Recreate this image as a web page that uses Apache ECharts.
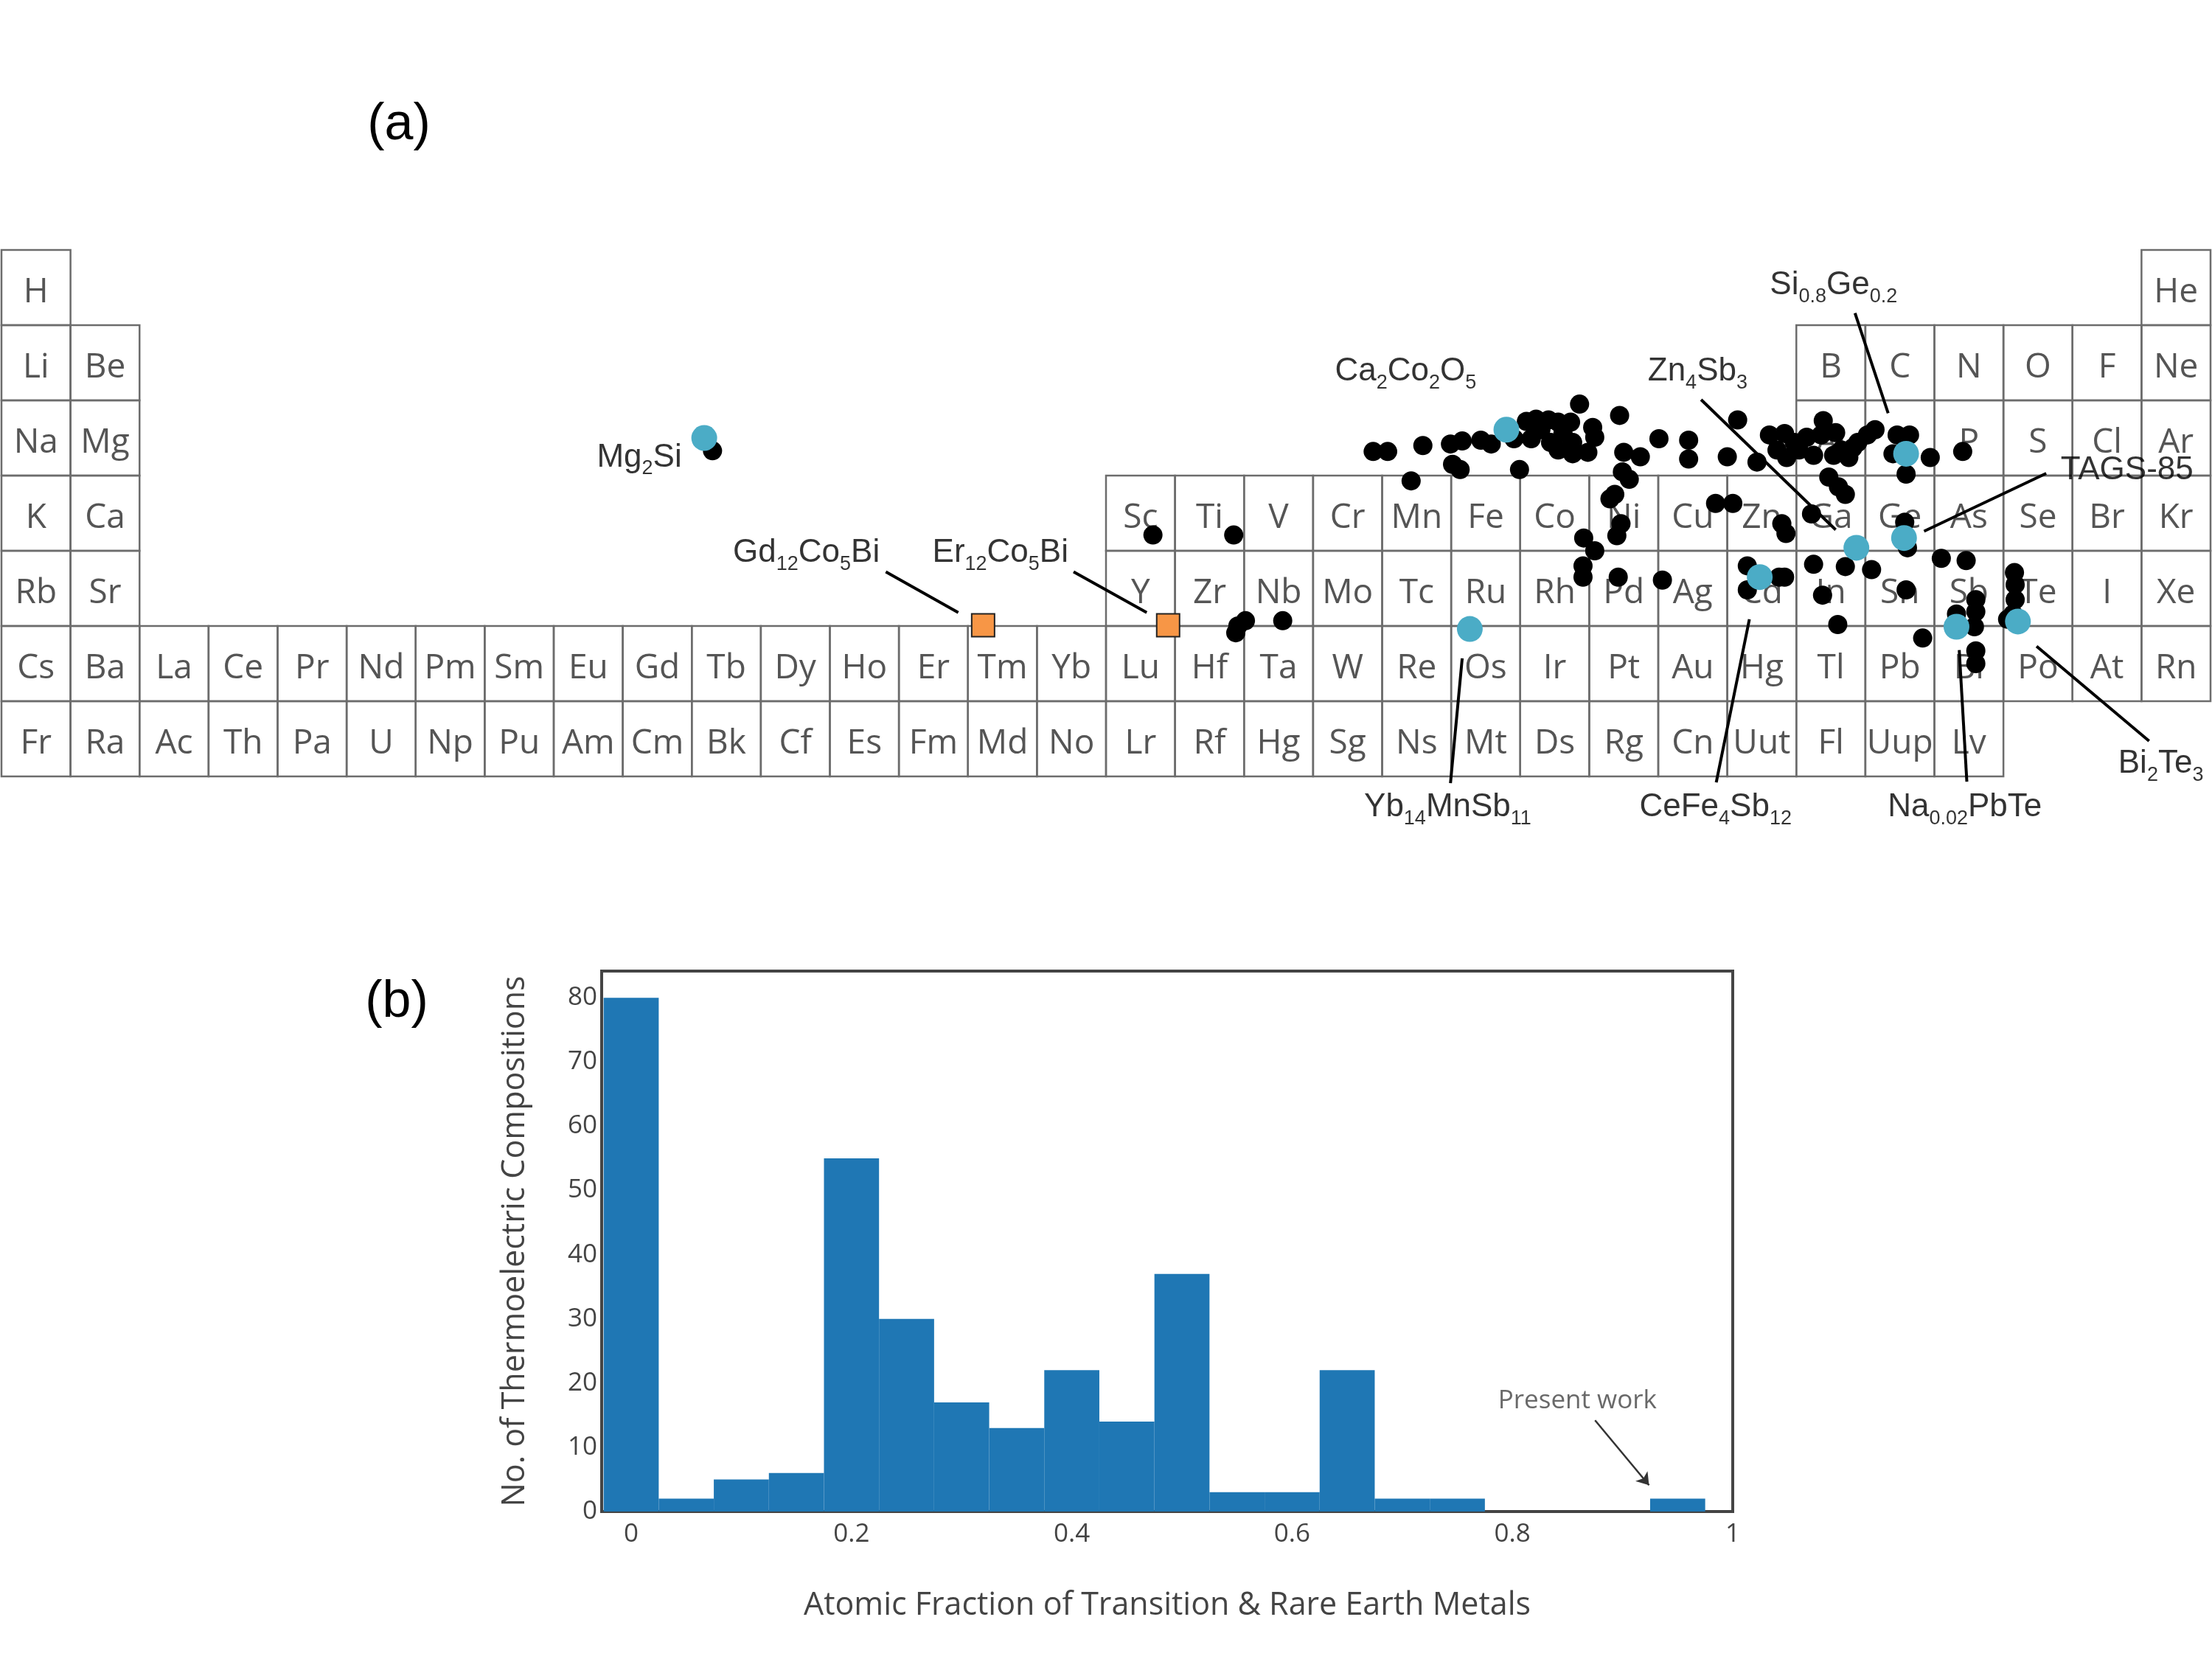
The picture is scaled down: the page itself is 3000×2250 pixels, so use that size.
<!DOCTYPE html>
<html><head><meta charset="utf-8">
<script src="https://cdn.jsdelivr.net/npm/echarts@6/dist/echarts.min.js"></script>
<style>html,body{margin:0;padding:0;background:#fff}#c{width:3000px;height:2250px}</style>
</head><body><div id="c"></div>
<script>
// ---------- (a) periodic table: [row, start column, symbols] ----------
const tableSegments = [
  [1, 1, 'H'], [1, 32, 'He'],
  [2, 1, 'Li Be'], [2, 27, 'B C N O F Ne'],
  [3, 1, 'Na Mg'], [3, 27, 'Al Si P S Cl Ar'],
  [4, 1, 'K Ca'], [4, 17, 'Sc Ti V Cr Mn Fe Co Ni Cu Zn Ga Ge As Se Br Kr'],
  [5, 1, 'Rb Sr'], [5, 17, 'Y Zr Nb Mo Tc Ru Rh Pd Ag Cd In Sn Sb Te I Xe'],
  [6, 1, 'Cs Ba La Ce Pr Nd Pm Sm Eu Gd Tb Dy Ho Er Tm Yb Lu Hf Ta W Re Os Ir Pt Au Hg Tl Pb Bi Po At Rn'],
  [7, 1, 'Fr Ra Ac Th Pa U Np Pu Am Cm Bk Cf Es Fm Md No Lr Rf Hg Sg Ns Mt Ds Rg Cn Uut Fl Uup Lv']
];

// compositions placed in table units: [column position, row position]
const blackPoints = [
  [10.30,2.67],
  [16.68,3.79],[17.85,3.79],
  [17.91,5.00],[18.02,4.93],[17.88,5.09],[18.56,4.93],
  [19.87,2.68],[20.08,2.68],[20.59,2.60],[20.42,3.07],
  [20.99,2.58],[21.16,2.54],[21.02,2.85],[21.13,2.92],
  [21.43,2.53],[21.58,2.58],[21.91,2.51],[21.99,2.92],
  [22.09,2.28],[22.23,2.25],[22.41,2.26],[22.55,2.29],[22.16,2.51],[22.30,2.39],[22.44,2.56],
  [22.62,2.43],[22.73,2.29],[22.76,2.56],[22.98,2.69],[22.76,2.71],[22.55,2.66],[23.05,2.36],[23.08,2.49],
  [22.86,2.05],[23.44,2.20],[24.01,2.51],[23.50,2.69],[23.74,2.75],
  [23.48,2.95],[23.58,3.05],[23.37,3.25],[23.30,3.31],
  [23.46,3.64],[23.40,3.80],
  [22.92,3.83],[23.08,4.00],[22.91,4.20],[22.91,4.35],
  [23.42,4.35],[24.06,4.39],
  [24.44,2.53],[24.44,2.78],
  [25.15,2.26],[25.43,2.82],[26.22,3.51],[25.00,2.75],
  [25.61,2.46],[25.83,2.44],[25.72,2.66],[25.86,2.76],[26.04,2.66],[26.25,2.73],[26.39,2.27],[26.36,2.46],
  [26.57,2.43],[26.54,2.73],[26.76,2.76],[26.82,2.63],[27.03,2.46],[27.14,2.39],[26.89,2.56],[25.97,2.56],
  [26.15,2.49],[26.65,2.66],
  [26.47,3.02],[26.61,3.15],[26.71,3.25],
  [24.83,3.37],[25.08,3.37],
  [25.79,3.64],[25.85,3.77],
  [27.46,2.46],[27.64,2.46],[27.40,2.71],[27.94,2.76],[28.41,2.68],[27.59,2.98],
  [27.57,3.62],[27.61,3.96],
  [26.25,4.18],[26.71,4.21],[27.09,4.25],[28.10,4.10],[28.46,4.13],
  [25.29,4.20],[25.29,4.52],[25.75,4.35],[25.83,4.35],
  [26.38,4.59],[27.59,4.52],[26.60,4.98],[27.83,5.16],
  [28.60,4.65],[28.60,4.81],[28.32,4.84],[28.58,5.01],
  [28.60,5.33],[28.60,5.50],
  [29.16,4.29],[29.17,4.45],[29.17,4.65],[29.14,4.84],[29.06,4.91]
];
const cyanPoints = [
  [10.18,2.50],[21.80,2.39],[21.27,5.04],[27.59,2.71],[27.56,3.83],
  [26.87,3.96],[25.47,4.35],[28.32,5.01],[29.21,4.94]
];
const orangePoints = [[14.22,4.99],[16.90,4.99]];

const labelTexts = [
  'Mg{s|2}Si', 'Gd{s|12}Co{s|5}Bi', 'Er{s|12}Co{s|5}Bi', 'Ca{s|2}Co{s|2}O{s|5}',
  'Zn{s|4}Sb{s|3}', 'Si{s|0.8}Ge{s|0.2}', 'TAGS-85', 'Bi{s|2}Te{s|3}',
  'Na{s|0.02}PbTe', 'CeFe{s|4}Sb{s|12}', 'Yb{s|14}MnSb{s|11}'
];
const labelPositions = [
  [9.24,2.76],[11.66,4.03],[14.47,4.03],[20.34,1.62],
  [24.57,1.62],[26.54,0.47],[30.79,2.93],[31.28,6.83],
  [28.44,7.41],[24.83,7.41],[20.95,7.41]
];
const leaderLines = [
  [[12.81,4.28],[13.86,4.82]],
  [[15.53,4.28],[16.59,4.82]],
  [[24.62,1.99],[26.57,3.72]],
  [[26.85,0.84],[27.33,2.17]],
  [[29.62,2.97],[27.85,3.74]],
  [[29.48,5.27],[31.11,6.53]],
  [[28.36,5.32],[28.47,7.07]],
  [[25.32,4.91],[24.84,7.08]],
  [[21.16,5.43],[20.99,7.09]]
];

// ---------- (b) histogram ----------
const binWidth = 0.05;
const binCenters = [0,0.05,0.1,0.15,0.2,0.25,0.3,0.35,0.4,0.45,0.5,0.55,0.6,0.65,0.7,0.75,0.8,0.85,0.9,0.95];
const binCounts  = [80,2,5,6,55,30,17,13,22,14,37,3,3,22,2,2,0,0,0,2];
const presentWorkLabel = [0.859, 17.2];
const presentWorkArrow = [[0.875,14.2],[0.924,4.1]];

const cells = [];
tableSegments.forEach(([row, start, syms]) => {
  syms.split(' ').forEach((s, i) => cells.push([start + i, row, s]));
});

const chart = echarts.init(document.getElementById('c'), null, {renderer: 'canvas', width: 3000, height: 2250});

const option = {
  animation: false,
  backgroundColor: '#fff',
  graphic: [
    {type: 'text', x: 541, y: 170, style: {text: '(a)', font: '70px "Liberation Sans", Arial', fill: '#000', align: 'center', verticalAlign: 'middle'}},
    {type: 'text', x: 538, y: 1360, style: {text: '(b)', font: '70px "Liberation Sans", Arial', fill: '#000', align: 'center', verticalAlign: 'middle'}}
  ],
  grid: [
    {left: 2, top: 135, width: 2996, height: 1020, show: false},
    {left: 816, top: 1317, width: 1534, height: 733, show: true, borderColor: '#444', borderWidth: 4, backgroundColor: 'transparent'}
  ],
  xAxis: [
    {gridIndex: 0, type: 'value', min: 0, max: 32, show: false},
    {gridIndex: 1, type: 'value', min: -0.0268, max: 1, splitNumber: 5,
      axisLine: {show: false}, axisTick: {show: false}, splitLine: {show: false},
      axisLabel: {showMinLabel: false, showMaxLabel: true, fontFamily: 'Open Sans', fontSize: 35, color: '#444', margin: 14},
      name: 'Atomic Fraction of Transition & Rare Earth Metals', nameLocation: 'middle', nameGap: 106,
      nameTextStyle: {fontFamily: 'Open Sans', fontSize: 43, color: '#444'}}
  ],
  yAxis: [
    {gridIndex: 0, type: 'value', min: -2, max: 8, inverse: true, show: false},
    {gridIndex: 1, type: 'value', min: 0, max: 84.15, interval: 10,
      axisLine: {show: false}, axisTick: {show: false}, splitLine: {show: false},
      axisLabel: {showMinLabel: true, showMaxLabel: false, fontFamily: 'Open Sans', fontSize: 35, color: '#444', margin: 6},
      name: 'No. of Thermoelectric Compositions', nameLocation: 'middle', nameGap: 96, nameRotate: 90,
      nameTextStyle: {fontFamily: 'Open Sans', fontSize: 43, color: '#444'}}
  ],
  series: [
    {
      type: 'custom', xAxisIndex: 0, yAxisIndex: 0, silent: true, z: 1, clip: false,
      data: cells.map(c => [c[0], c[1]]),
      renderItem: (params, api) => {
        const c = api.value(0), r = api.value(1);
        const p1 = api.coord([c - 1, r - 1]);
        const p2 = api.coord([c, r]);
        return {
          type: 'group',
          children: [
            {type: 'rect', shape: {x: p1[0], y: p1[1], width: p2[0] - p1[0], height: p2[1] - p1[1]},
              style: {fill: 'transparent', stroke: '#6c6c6c', lineWidth: 2.5}},
            {type: 'text', x: (p1[0] + p2[0]) / 2, y: (p1[1] + p2[1]) / 2 + 7,
              style: {text: cells[params.dataIndex][2], fontFamily: 'Open Sans', fontSize: 46, fill: '#555', align: 'center', verticalAlign: 'middle'}}
          ]
        };
      }
    },
    {
      type: 'scatter', xAxisIndex: 0, yAxisIndex: 0, silent: true, z: 3,
      data: blackPoints, symbol: 'circle', symbolSize: 26,
      itemStyle: {color: '#000', opacity: 1}
    },
    {
      type: 'lines', coordinateSystem: 'cartesian2d', xAxisIndex: 0, yAxisIndex: 0, silent: true, z: 4, clip: false,
      data: leaderLines.map(l => ({coords: l})),
      symbol: 'none',
      lineStyle: {color: '#000', width: 4, opacity: 1}
    },
    {
      type: 'scatter', xAxisIndex: 0, yAxisIndex: 0, silent: true, z: 5,
      data: cyanPoints, symbol: 'circle', symbolSize: 35,
      itemStyle: {color: '#4bacc6', opacity: 1}
    },
    {
      type: 'scatter', xAxisIndex: 0, yAxisIndex: 0, silent: true, z: 5,
      data: orangePoints, symbol: 'rect', symbolSize: 31,
      itemStyle: {color: '#f79646', borderColor: '#222', borderWidth: 2, opacity: 1}
    },
    {
      type: 'scatter', xAxisIndex: 0, yAxisIndex: 0, silent: true, z: 6, clip: false,
      symbolSize: 0,
      data: labelPositions.map((p, i) => ({value: p, name: labelTexts[i]})),
      label: {
        show: true, position: 'inside', formatter: p => p.name,
        fontFamily: 'Liberation Sans', fontSize: 44, lineHeight: 58, color: '#000',
        rich: {s: {fontFamily: 'Liberation Sans', fontSize: 27, lineHeight: 27, verticalAlign: 'bottom', color: '#000'}}
      }
    },
    {
      type: 'custom', xAxisIndex: 1, yAxisIndex: 1, silent: true, z: 2,
      data: binCenters.map((x, i) => [x, binCounts[i]]),
      renderItem: (params, api) => {
        const x = api.value(0), y = api.value(1);
        const p1 = api.coord([x - binWidth / 2, y]);
        const p2 = api.coord([x + binWidth / 2, 0]);
        return {type: 'rect', shape: {x: p1[0], y: p1[1], width: p2[0] - p1[0], height: p2[1] - p1[1]},
          style: {fill: '#1f77b4'}};
      }
    },
    {
      type: 'lines', coordinateSystem: 'cartesian2d', xAxisIndex: 1, yAxisIndex: 1, silent: true, z: 4,
      data: [{coords: presentWorkArrow}],
      symbol: ['none', 'arrow'], symbolSize: 16,
      lineStyle: {color: '#333', width: 2.5, opacity: 1}
    },
    {
      type: 'scatter', xAxisIndex: 1, yAxisIndex: 1, silent: true, z: 4, symbolSize: 0,
      data: [{value: presentWorkLabel, name: 'Present work'}],
      label: {show: true, position: 'inside', formatter: p => p.name, fontFamily: 'Open Sans', fontSize: 35, color: '#444'}
    }
  ]
};
chart.setOption(option);
</script>
</body></html>
